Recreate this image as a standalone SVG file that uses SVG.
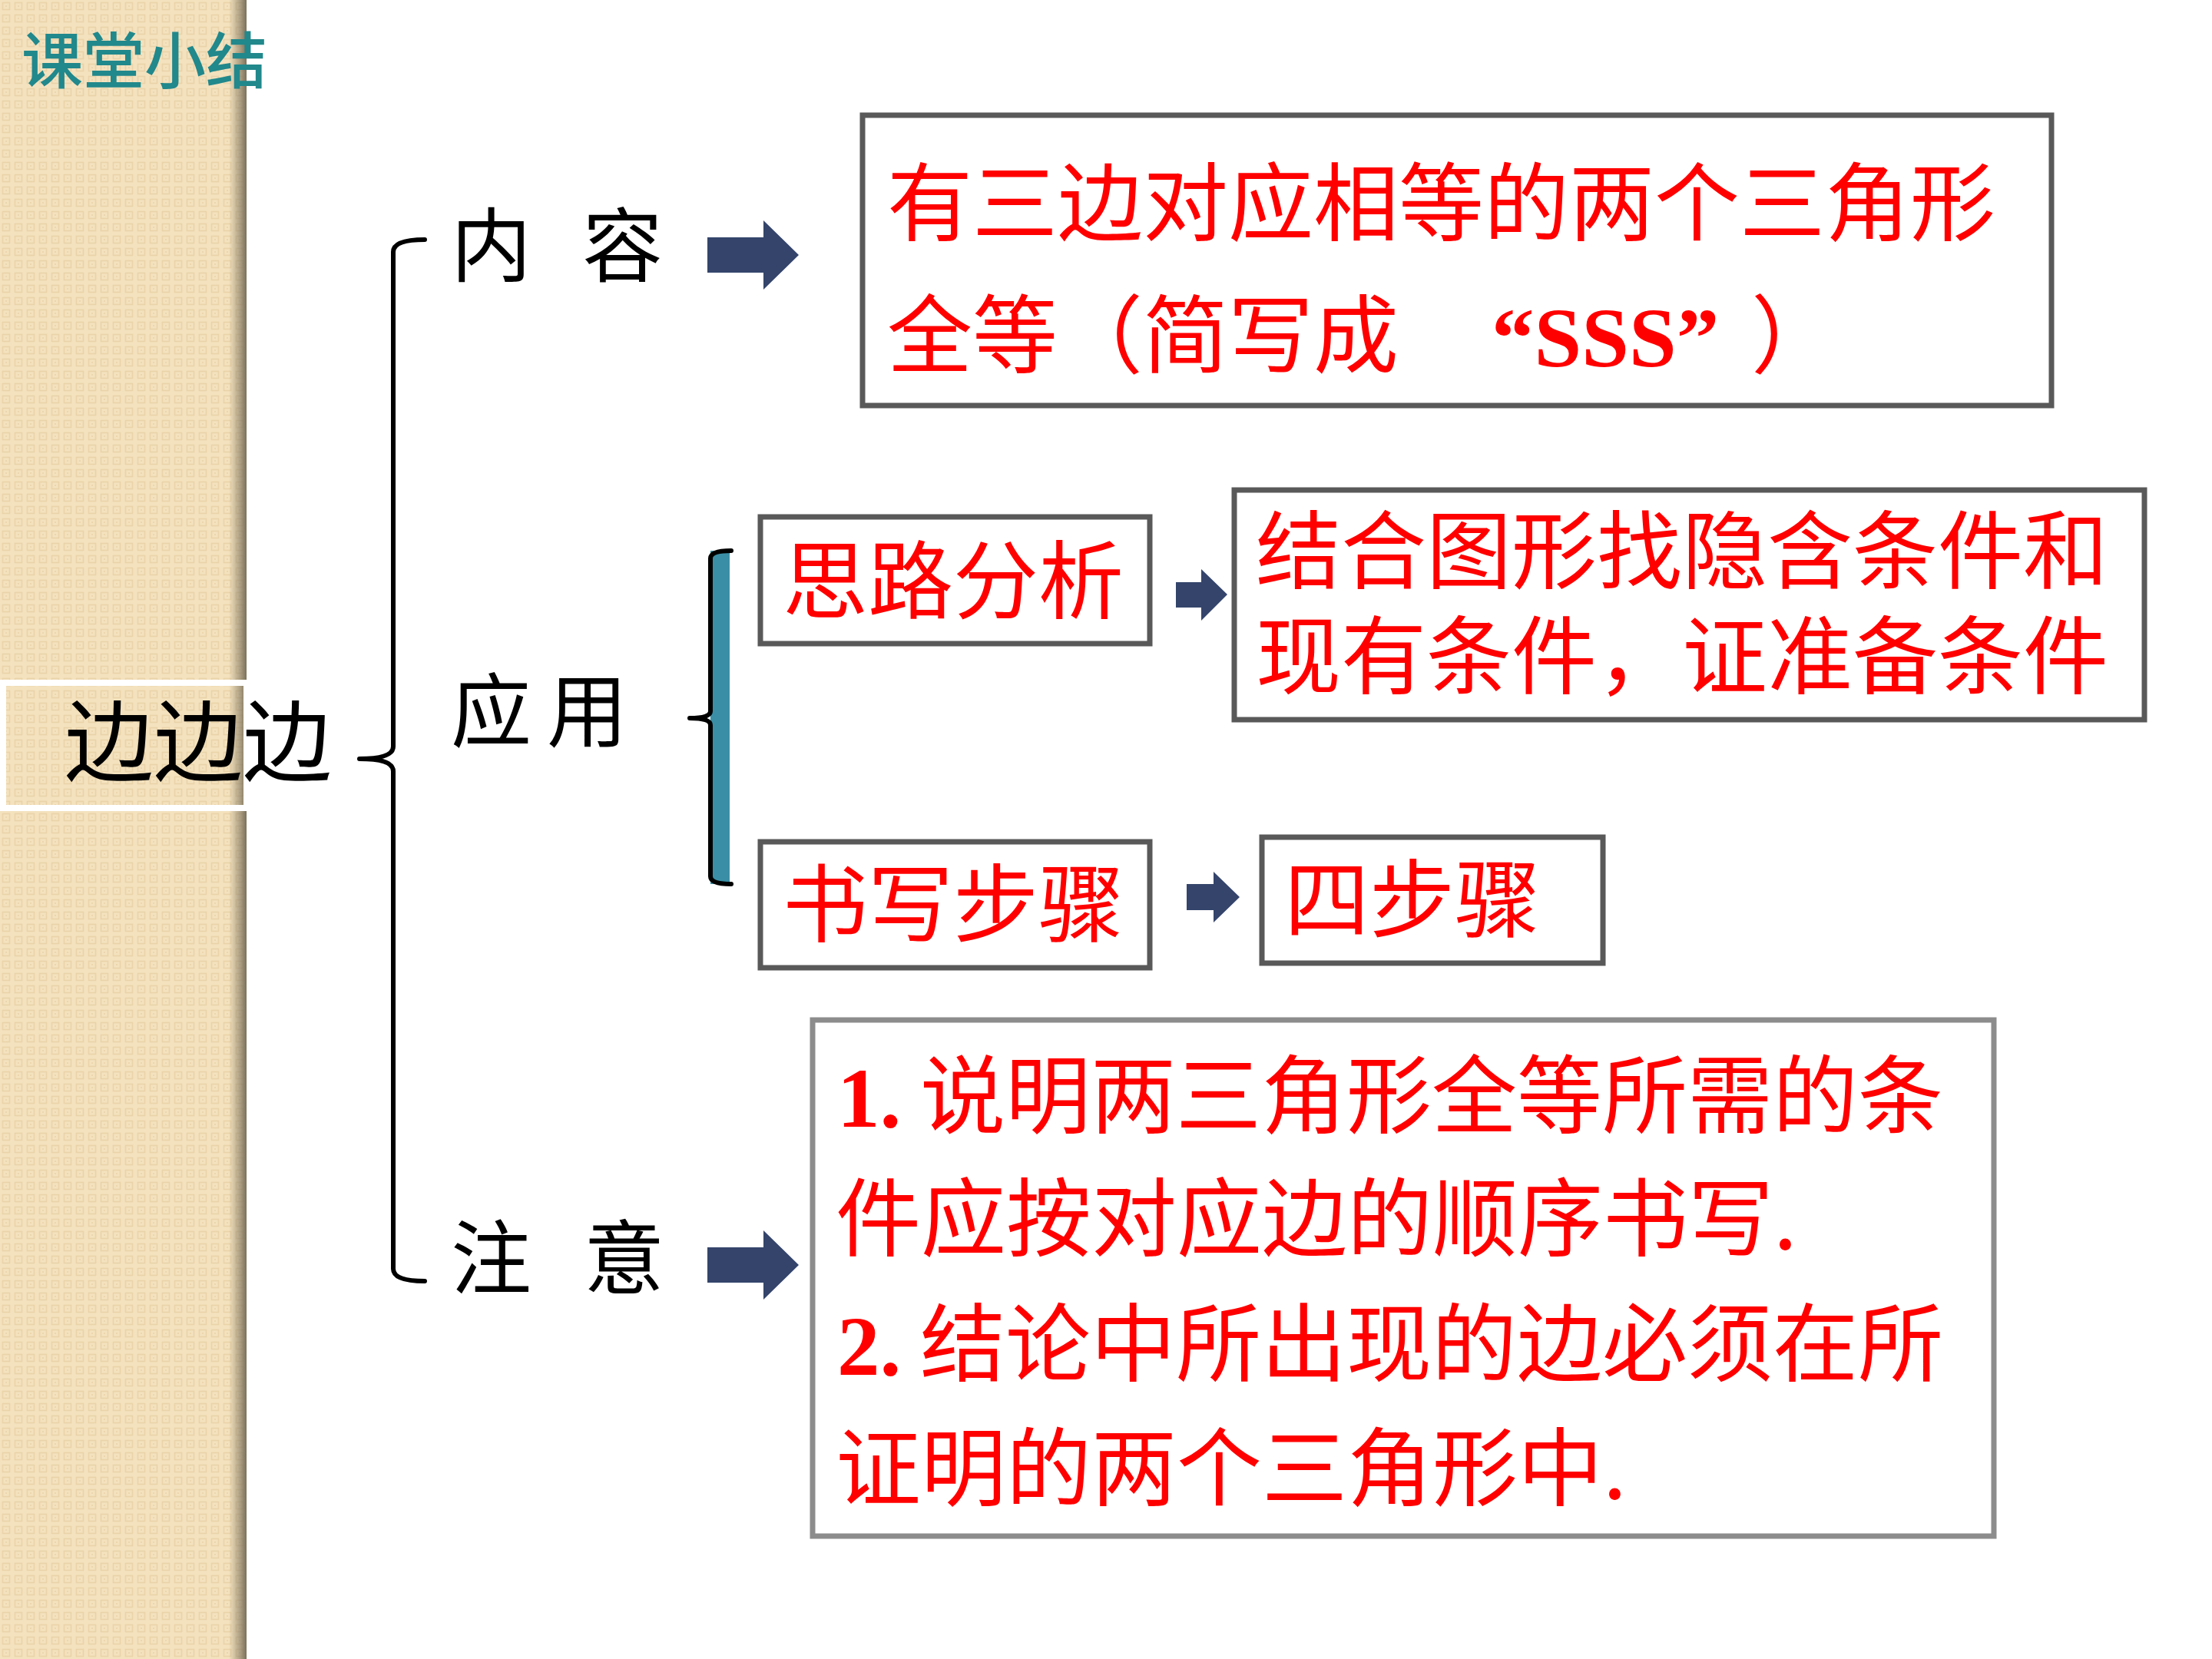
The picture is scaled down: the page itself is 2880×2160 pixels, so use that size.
<svg xmlns="http://www.w3.org/2000/svg" width="2880" height="2160" viewBox="0 0 2880 2160">
<defs>
  <pattern id="tex" width="16" height="16" patternUnits="userSpaceOnUse">
    <rect width="16" height="16" fill="#F4E2BE"/>
    <rect x="3.5" y="3.5" width="9" height="9" fill="none" stroke="#E9D3A9" stroke-width="1.6"/>
    <rect x="7" y="7" width="2" height="2" fill="#EBD6AE"/>
  </pattern>
  <linearGradient id="shadow" x1="0" y1="0" x2="1" y2="0">
    <stop offset="0" stop-color="#857A62" stop-opacity="0"/>
    <stop offset="0.6" stop-color="#857A62" stop-opacity="0.6"/>
    <stop offset="1" stop-color="#7A705A" stop-opacity="1"/>
  </linearGradient>
  <style>
    .cjk { font-family: "Noto Sans CJK SC", "Noto Sans", sans-serif; }
    .red { fill: #FF0000; font-size: 111px; }
    .lbl { fill: #000000; font-size: 105px; }
    .ser { font-family: "Liberation Serif", "Noto Sans CJK SC", serif; font-weight: bold; }
    .box { fill: #FFFFFF; stroke: #595959; stroke-width: 7; }
    .box2 { fill: #FFFFFF; stroke: #8C8C8C; stroke-width: 7; }
    .arrow { fill: #34446B; }
    .br { fill: none; stroke: #000000; stroke-width: 6; stroke-linecap: round; stroke-linejoin: round; }
  </style>
</defs>

<rect width="2880" height="2160" fill="#FFFFFF"/>

<!-- textured side band -->
<g id="band">
  <rect x="0" y="0" width="321" height="2160" fill="url(#tex)"/>
  <rect x="298" y="0" width="23" height="2160" fill="url(#shadow)"/>
</g>

<g id="title">
  <text class="cjk" x="28" y="108" font-size="80" font-weight="500" fill="#21888C">课堂小结</text>
</g>

<g id="root">
  <rect x="4" y="889" width="317" height="163" fill="none" stroke="#FFFFFF" stroke-width="8"/>
  <text class="cjk" x="84" y="1008" font-size="116" fill="#000000">边边边</text>
</g>

<!-- connectors -->
<g id="connectors">
  <path class="br" d="M 553 312 Q 512 312 512 328 L 512 972 Q 512 988 468 988 Q 512 988 512 1004 L 512 1652 Q 512 1668 553 1668"/>
  <rect x="925" y="717" width="25" height="434" fill="#3A8FA6"/>
  <path class="br" d="M 952 717 Q 925 717 925 727 L 925 926 Q 925 935 898 935 Q 925 935 925 944 L 925 1141 Q 925 1151 952 1151"/>
  <path class="arrow" d="M 921 309 L 994 309 L 994 287 L 1040 332 L 994 377 L 994 355 L 921 355 Z"/>
  <path class="arrow" d="M 1531 758 L 1564 758 L 1564 741 L 1598 774 L 1564 808 L 1564 791 L 1531 791 Z"/>
  <path class="arrow" d="M 1545 1151 L 1580 1151 L 1580 1135 L 1614 1168 L 1580 1201 L 1580 1185 L 1545 1185 Z"/>
  <path class="arrow" d="M 921 1624 L 994 1624 L 994 1602 L 1040 1647 L 994 1692 L 994 1670 L 921 1670 Z"/>
</g>

<g id="label-content">
  <text class="cjk lbl" x="587 758" y="358">内容</text>
</g>
<g id="label-apply">
  <text class="cjk lbl" x="587 712" y="964">应用</text>
</g>
<g id="label-note">
  <text class="cjk lbl" x="587 760" y="1676">注意</text>
</g>

<g id="content-box">
  <rect class="box" x="1123" y="150" width="1548" height="378"/>
  <text class="cjk red" x="1155" y="305">有三边对应相等的两个三角形</text>
  <text class="cjk red" x="1155" y="477">全等（简写成</text>
  <text class="ser red" x="1942" y="477">“SSS”</text>
  <text class="cjk red" x="2280" y="477">）</text>
</g>

<g id="analysis">
  <rect class="box" x="990" y="673" width="507" height="165"/>
  <text class="cjk red" x="1019" y="797">思路分析</text>
</g>

<g id="analysis-detail">
  <rect class="box" x="1607" y="638" width="1185" height="299"/>
  <text class="cjk red" x="1635" y="758">结合图形找隐含条件和</text>
  <text class="cjk red" x="1635" y="895">现有条件，证准备条件</text>
</g>

<g id="writing">
  <rect class="box" x="990" y="1096" width="507" height="164"/>
  <text class="cjk red" x="1019" y="1218">书写步骤</text>
</g>

<g id="four-steps">
  <rect class="box" x="1643" y="1090" width="444" height="164"/>
  <text class="cjk red" x="1672" y="1212">四步骤</text>
</g>

<g id="notes">
  <rect class="box2" x="1058" y="1328" width="1538" height="672"/>
  <text class="red" y="1467"><tspan class="ser" x="1090">1.</tspan><tspan class="cjk" x="1198">说明两三角形全等所需的条</tspan></text>
  <text class="cjk red" x="1088" y="1627">件应按对应边的顺序书写.</text>
  <text class="red" y="1790"><tspan class="ser" x="1090">2.</tspan><tspan class="cjk" x="1198">结论中所出现的边必须在所</tspan></text>
  <text class="cjk red" x="1088" y="1952">证明的两个三角形中.</text>
</g>
</svg>
